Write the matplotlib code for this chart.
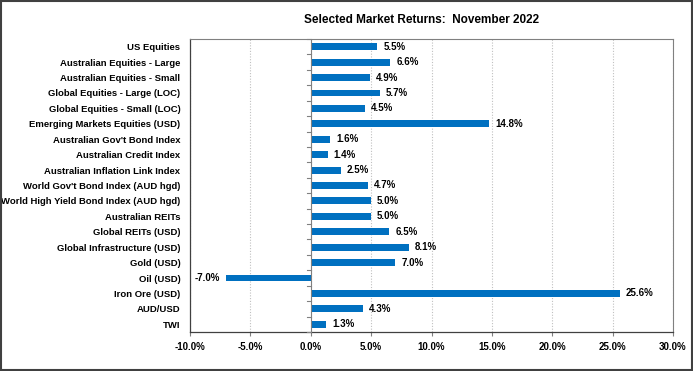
import matplotlib.pyplot as plt
import numpy as np

plt.rcParams['font.family'] = ['Liberation Sans', 'DejaVu Sans']
plt.rcParams['font.weight'] = 'bold'

categories = ["US Equities", "Australian Equities - Large", "Australian Equities - Small",
              "Global Equities - Large (LOC)", "Global Equities - Small (LOC)",
              "Emerging Markets Equities (USD)", "Australian Gov't Bond Index",
              "Australian Credit Index", "Australian Inflation Link Index",
              "World Gov't Bond Index (AUD hgd)", "World High Yield Bond Index (AUD hgd)",
              "Australian REITs", "Global REITs (USD)", "Global Infrastructure (USD)",
              "Gold (USD)", "Oil (USD)", "Iron Ore (USD)", "AUD/USD", "TWI"]
returns = [5.5, 6.6, 4.9, 5.7, 4.5, 14.8, 1.6, 1.4, 2.5, 4.7, 5.0, 5.0, 6.5, 8.1, 7.0,
           -7.0, 25.6, 4.3, 1.3]
xticks = [-10, -5, 0, 5, 10, 15, 20, 25, 30]

fig = plt.figure(figsize=(6.93, 3.71), dpi=100)
ax = fig.add_axes([190 / 693, 1 - 332 / 371, 483 / 693, 293 / 371])

y = np.arange(len(categories))
ax.barh(y, returns, height=0.45, color='#0070C0', zorder=3)

for yi, v in zip(y, returns):
    if v >= 0:
        ax.text(v + 0.5, yi, f"{v:.1f}%", va='center', ha='left', fontsize=7)
    else:
        ax.text(v - 0.5, yi, f"{v:.1f}%", va='center', ha='right', fontsize=7)

ax.set_xlim(-10, 30)
ax.set_ylim(len(categories) - 0.5, -0.5)
ax.set_xticks(xticks)
ax.set_xticklabels([f"{t:.1f}%" for t in xticks], fontsize=7)
ax.set_yticks(y)
ax.set_yticklabels(categories, fontsize=6.8)
ax.tick_params(axis='y', length=0, pad=7)
ax.tick_params(axis='x', length=3, color='#808080', pad=4)

ax.grid(axis='x', linestyle=(0, (1, 1.5)), color='#c0c0c0', linewidth=0.8, zorder=0)

# category axis drawn at zero
ax.axvline(0, color='#808080', linewidth=0.8, zorder=4)
for b in np.arange(-0.5, len(categories), 1.0):
    ax.plot([-0.35, 0], [b, b], color='#808080', linewidth=0.8, zorder=4, clip_on=False)

for s in ['left', 'bottom']:
    ax.spines[s].set_color('#404040')
    ax.spines[s].set_linewidth(0.9)
for s in ['top', 'right']:
    ax.spines[s].set_color('#808080')
    ax.spines[s].set_linewidth(0.8)

fig.text(422 / 693, 1 - 20 / 371, "Selected Market Returns:  November 2022",
         ha='center', va='center', fontsize=8.5, fontweight='bold')

# outer border
fig.patches.append(plt.Rectangle((0.002, 0.003), 0.996, 0.994, transform=fig.transFigure,
                                 fill=False, edgecolor='#404040', linewidth=1.5))

fig.savefig('out.png', dpi=100)
